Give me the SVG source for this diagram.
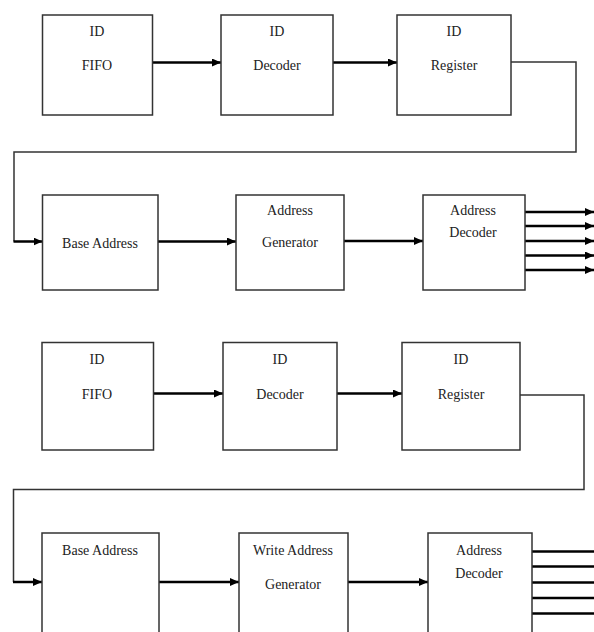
<svg xmlns="http://www.w3.org/2000/svg" width="594" height="632" viewBox="0 0 594 632">
<defs>
<marker id="ah" markerUnits="userSpaceOnUse" markerWidth="10" markerHeight="9" refX="9" refY="4" orient="auto">
<path d="M0,0 L9,4 L0,8 z" fill="#000"/>
</marker>
<style>
.box{fill:#fff;stroke:#333;stroke-width:1.5}
.t{font-family:"Liberation Serif","Times New Roman",serif;font-size:14px;fill:#222;text-anchor:middle}
.arr{stroke:#000;stroke-width:2.5;fill:none;marker-end:url(#ah)}
.thk{stroke:#000;stroke-width:2.5;fill:none}
.thin{stroke:#333;stroke-width:1.5;fill:none}
</style>
</defs>
<rect width="594" height="632" fill="#fff"/>
<g id="connectors">
<line class="arr" x1="153" y1="62.5" x2="221" y2="62.5"/>
<line class="arr" x1="333" y1="62.5" x2="397" y2="62.5"/>
<polyline class="thin" points="511,62 576,62 576,152 14,152 14,241.5"/>
<line class="arr" x1="13.5" y1="241.5" x2="42.5" y2="241.5"/>
<line class="arr" x1="158" y1="241.5" x2="236" y2="241.5"/>
<line class="arr" x1="344" y1="241" x2="423" y2="241"/>
<line class="arr" x1="525" y1="212" x2="594" y2="212"/>
<line class="arr" x1="525" y1="226" x2="594" y2="226"/>
<line class="arr" x1="525" y1="241" x2="594" y2="241"/>
<line class="arr" x1="525" y1="255.5" x2="594" y2="255.5"/>
<line class="arr" x1="525" y1="270" x2="594" y2="270"/>
<line class="arr" x1="153.5" y1="393.5" x2="223" y2="393.5"/>
<line class="arr" x1="337" y1="393.5" x2="402" y2="393.5"/>
<polyline class="thin" points="520,395 584,395 584,489.5 13.5,489.5 13.5,582"/>
<line class="arr" x1="13" y1="582" x2="42" y2="582"/>
<line class="arr" x1="159" y1="582" x2="239" y2="582"/>
<line class="arr" x1="348" y1="582" x2="428" y2="582"/>
<line class="thk" x1="532" y1="551.5" x2="594" y2="551.5"/>
<line class="thk" x1="532" y1="566.5" x2="594" y2="566.5"/>
<line class="thk" x1="532" y1="582.5" x2="594" y2="582.5"/>
<line class="thk" x1="532" y1="598" x2="594" y2="598"/>
<line class="thk" x1="532" y1="613.5" x2="594" y2="613.5"/>
</g>
<g id="id-fifo-1"><rect class="box" x="42.5" y="15" width="110" height="100"/><text class="t" x="97" y="36">ID</text><text class="t" x="97" y="70">FIFO</text></g>
<g id="id-decoder-1"><rect class="box" x="221" y="15" width="112" height="100"/><text class="t" x="277" y="36">ID</text><text class="t" x="277" y="70">Decoder</text></g>
<g id="id-register-1"><rect class="box" x="397" y="15" width="114" height="100"/><text class="t" x="454" y="36">ID</text><text class="t" x="454" y="70">Register</text></g>
<g id="base-address-1"><rect class="box" x="42.5" y="195" width="115.5" height="95"/><text class="t" x="100" y="248">Base Address</text></g>
<g id="address-generator-1"><rect class="box" x="236" y="195" width="108" height="95"/><text class="t" x="290" y="215">Address</text><text class="t" x="290" y="247">Generator</text></g>
<g id="address-decoder-1"><rect class="box" x="423" y="195" width="102" height="95"/><text class="t" x="473" y="215">Address</text><text class="t" x="473" y="237">Decoder</text></g>
<g id="id-fifo-2"><rect class="box" x="42" y="342.5" width="111.5" height="107.5"/><text class="t" x="97" y="364">ID</text><text class="t" x="97" y="399">FIFO</text></g>
<g id="id-decoder-2"><rect class="box" x="223" y="342.5" width="114" height="107.5"/><text class="t" x="280" y="364">ID</text><text class="t" x="280" y="399">Decoder</text></g>
<g id="id-register-2"><rect class="box" x="402" y="342.5" width="118" height="107.5"/><text class="t" x="461" y="364">ID</text><text class="t" x="461" y="399">Register</text></g>
<g id="base-address-2"><rect class="box" x="42" y="533" width="117" height="110"/><text class="t" x="100" y="555">Base Address</text></g>
<g id="write-address-generator"><rect class="box" x="239" y="533" width="109" height="110"/><text class="t" x="293" y="555">Write Address</text><text class="t" x="293" y="589">Generator</text></g>
<g id="address-decoder-2"><rect class="box" x="428" y="533" width="104" height="110"/><text class="t" x="479" y="555">Address</text><text class="t" x="479" y="578">Decoder</text></g>
</svg>
